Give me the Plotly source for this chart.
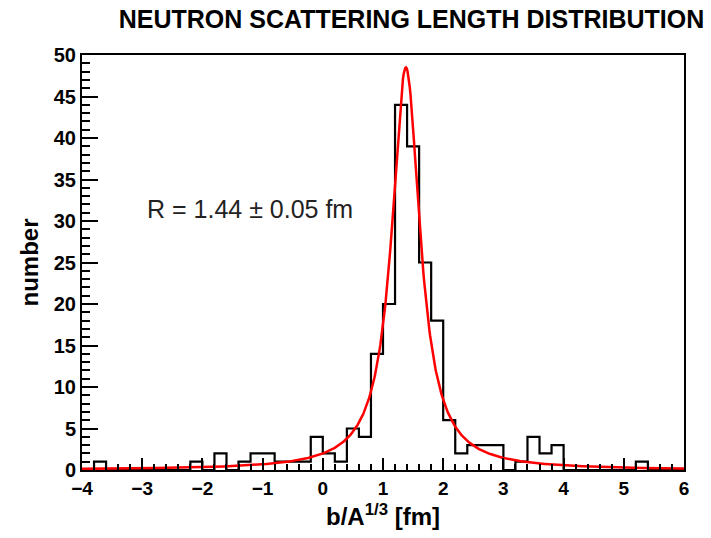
import numpy as np
import plotly.graph_objects as go

# Histogram: bins of width 0.2 fm from -4 to 6
bin_lo = -4.0
bin_width = 0.2
counts = [
    0, 1, 0, 0, 0, 0, 0, 0, 0, 1,      # -4.0 .. -2.2
    0, 2, 0, 1, 2, 2, 1, 1, 1, 4,      # -2.0 .. -0.2
    2, 1, 5, 4, 14, 20, 44, 39, 25, 18,  # 0.0 .. 1.8
    6, 2, 3, 3, 3, 0, 1, 4, 2, 3,      # 2.0 .. 3.8
    0, 0, 0, 0, 0, 0, 1, 0, 0, 0,      # 4.0 .. 5.8
]

# Breit-Wigner (Lorentzian) fit parameters
fit_amp = 48.5
fit_center = 1.38
fit_hwhm = 0.285

x_range = [-4, 6]
y_range = [0, 50]
x_ticks = [-4, -3, -2, -1, 0, 1, 2, 3, 4, 5, 6]
y_ticks = [0, 5, 10, 15, 20, 25, 30, 35, 40, 45, 50]

edges = bin_lo + bin_width * np.arange(len(counts) + 1)
step_y = counts + [counts[-1]]

xf = np.linspace(x_range[0], x_range[1], 800)
yf = fit_amp / (1.0 + ((xf - fit_center) / fit_hwhm) ** 2)

FONT = "Liberation Sans, Arial, Helvetica, sans-serif"

fig = go.Figure()
fig.add_trace(go.Scatter(
    x=edges, y=step_y, mode="lines", line=dict(color="black", width=2.2, shape="hv"),
    hoverinfo="skip", showlegend=False,
))
fig.add_trace(go.Scatter(
    x=xf, y=yf, mode="lines", line=dict(color="#ff0000", width=2.5),
    hoverinfo="skip", showlegend=False,
))

# fit result label, placed in data coordinates
fig.add_annotation(
    x=-1.21, y=31.4, xref="x", yref="y",
    text="R = 1.44 \u00b1 0.05 fm", showarrow=False,
    font=dict(family=FONT, size=25, color="#222222"),
    xanchor="center", yanchor="middle",
)

fig.update_layout(
    width=711, height=538,
    margin=dict(l=82, r=27, t=55, b=65),
    paper_bgcolor="white", plot_bgcolor="white",
    title=dict(
        text="NEUTRON SCATTERING LENGTH DISTRIBUTION",
        x=411.5 / 711, xref="container", xanchor="center",
        y=1 - 19.5 / 538, yref="container", yanchor="middle",
        font=dict(family=FONT, size=25, color="black", weight="bold"),
    ),
    font=dict(family=FONT, color="black"),
)

fig.update_xaxes(
    range=x_range, tickvals=x_ticks, showgrid=False, zeroline=False,
    showline=True, linecolor="black", linewidth=2, mirror=True,
    ticks="inside", ticklen=12, tickwidth=2, tickcolor="black",
    minor=dict(dtick=0.2, ticks="inside", ticklen=6, tickwidth=1.5, tickcolor="black"),
    tickfont=dict(family=FONT, size=19, color="black", weight="bold"),
    title=dict(text="b/A<sup>1/3</sup> [fm]", standoff=10,
               font=dict(family=FONT, size=24, color="black", weight="bold")),
)
fig.update_yaxes(
    range=y_range, tickvals=y_ticks, showgrid=False, zeroline=False,
    showline=True, linecolor="black", linewidth=2, mirror=True,
    ticks="inside", ticklen=16, tickwidth=2, tickcolor="black",
    minor=dict(dtick=1, ticks="inside", ticklen=8, tickwidth=1.5, tickcolor="black"),
    tickfont=dict(family=FONT, size=20, color="black", weight="bold"),
    title=dict(text="number", standoff=8,
               font=dict(family=FONT, size=24, color="black", weight="bold")),
)

fig.write_html("out.html")
